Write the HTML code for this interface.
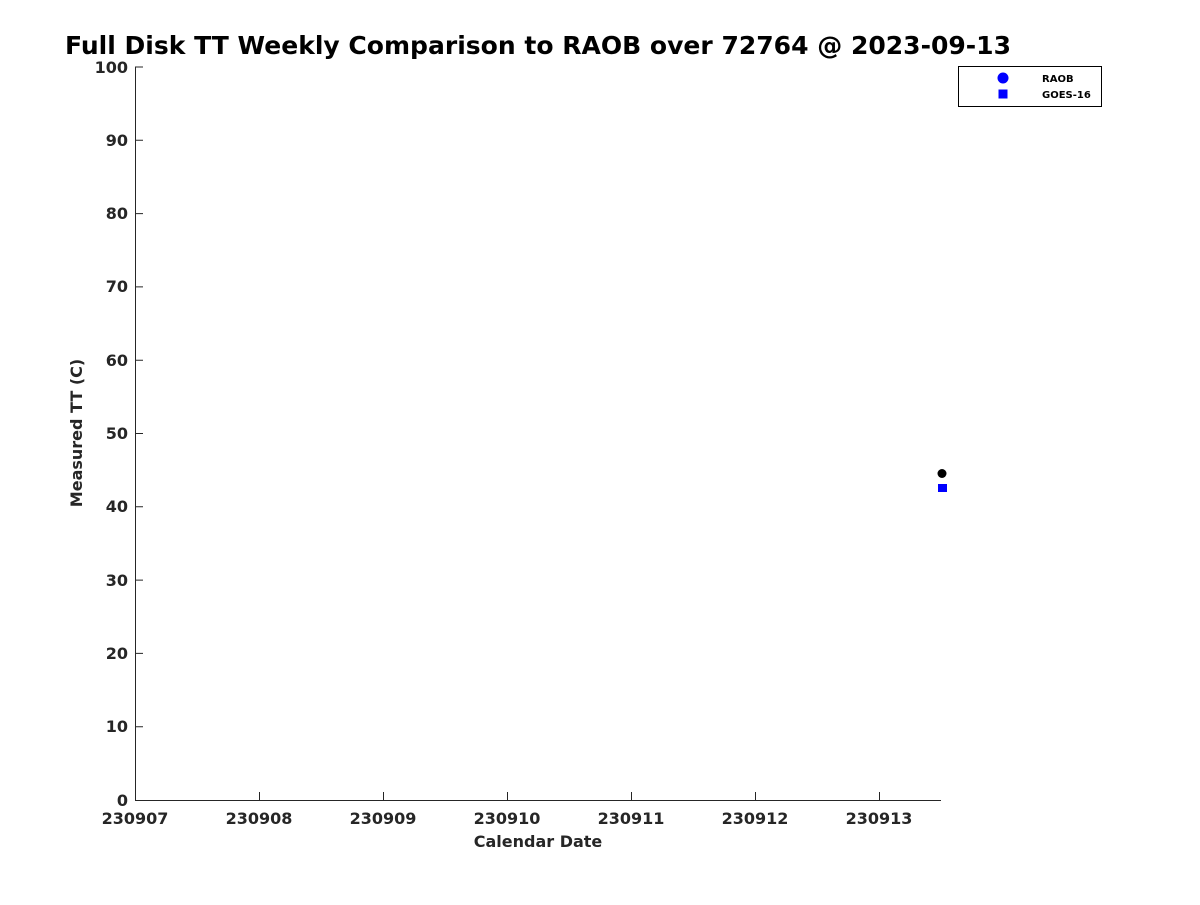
<!DOCTYPE html>
<html><head><meta charset="utf-8"><style>body{margin:0;background:#fff}</style></head><body>
<svg width="1200" height="900" xmlns="http://www.w3.org/2000/svg" font-family="DejaVu Sans, Liberation Sans, sans-serif" font-weight="bold">
<rect width="1200" height="900" fill="#fff"/>
<text x="65" y="54" font-size="25" textLength="946" lengthAdjust="spacingAndGlyphs" fill="#000">Full Disk TT Weekly Comparison to RAOB over 72764 @ 2023-09-13</text>
<g stroke="#262626" stroke-width="1" fill="none">
<path d="M135.5 67V800.5H941"/>
<path d="M135 67h8M135 140.3h8M135 213.6h8M135 286.9h8M135 360.2h8M135 433.5h8M135 506.8h8M135 580.1h8M135 653.4h8M135 726.7h8"/>
<path d="M259.5 800v-8M383.5 800v-8M507.5 800v-8M631.5 800v-8M755.5 800v-8M879.5 800v-8"/>
</g>
<g font-size="16" fill="#262626" text-anchor="end">
<text x="128" y="73">100</text><text x="128" y="146">90</text><text x="128" y="219">80</text><text x="128" y="292">70</text><text x="128" y="366">60</text><text x="128" y="439">50</text><text x="128" y="512">40</text><text x="128" y="586">30</text><text x="128" y="659">20</text><text x="128" y="732">10</text><text x="128" y="806">0</text>
</g>
<g font-size="16" fill="#262626" text-anchor="middle">
<text x="135" y="824">230907</text><text x="259" y="824">230908</text><text x="383" y="824">230909</text><text x="507" y="824">230910</text><text x="631" y="824">230911</text><text x="755" y="824">230912</text><text x="879" y="824">230913</text>
<text x="538" y="847">Calendar Date</text>
<text transform="translate(82 433) rotate(-90)">Measured TT (C)</text>
</g>
<circle cx="942" cy="473.5" r="4.5" fill="#000"/>
<rect x="938" y="484" width="9" height="8" fill="#0000ff"/>
<rect x="958.5" y="66.5" width="143" height="40" fill="#fff" stroke="#000"/>
<circle cx="1003" cy="78" r="5.5" fill="#0000ff"/>
<rect x="998.5" y="89.5" width="9" height="9" fill="#0000ff"/>
<text x="1042" y="82" font-size="10" fill="#000">RAOB</text>
<text x="1042" y="98" font-size="10" fill="#000">GOES-16</text>
</svg>
</body></html>
